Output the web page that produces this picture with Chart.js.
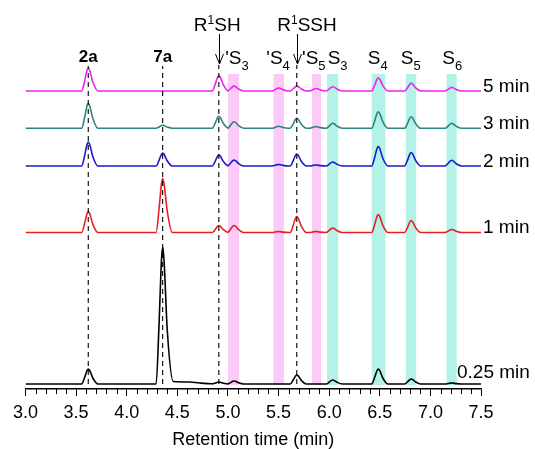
<!DOCTYPE html>
<html>
<head>
<meta charset="utf-8">
<script src="https://cdn.jsdelivr.net/npm/chart.js@4.4.0/dist/chart.umd.min.js"></script>
<style>
  body { margin: 0; background: #fff; }
  #wrap { width: 535px; height: 449px; }
</style>
</head>
<body>
<div id="wrap"><canvas id="c" width="535" height="449"></canvas></div>
<script>
// retention times (min) of the peaks followed through the runs
const peakTimes = [3.62, 4.355, 4.91, 5.06, 5.50, 5.68, 5.87, 6.035, 6.485, 6.81, 7.21];

// runs, bottom to top
const runLabels = ['0.25 min', '1 min', '2 min', '3 min', '5 min'];
const runColors = ['#000000', '#e82020', '#1a1acd', '#2a8580', '#ee22ee'];

// peak heights per run (same order as peakTimes)
const h025 = [15, 137, 2, 3, 0, 9, 0, 4, 15, 5, 1];
const h1   = [21, 54, 7, 7, 1, 16, 1, 4.5, 18, 12, 3];
const h2   = [24, 13, 11, 6, 1.5, 12, 1, 4, 19.5, 13.5, 5.7];
const h3   = [25, 3, 12, 6.5, 2, 10, 1.7, 5, 16.6, 11.6, 5];
const h5   = [23, 0, 15.5, 5, 3, 5, 2.5, 4.3, 13.3, 7.7, 3.7];
const runHeights = [h025, h1, h2, h3, h5];

// slow tail behind the big 7a peak of the first run
const tail025 = [[4.46, 2.5], [4.62, 2], [4.72, 1], [4.85, 0.3]];

// marked lines and bands
const markLines = [3.62, 4.355, 4.91, 5.68];
const pinkBands = [[5.0, 5.11], [5.45, 5.555], [5.83, 5.92]];
const cyanBands = [[5.98, 6.09], [6.42, 6.555], [6.757, 6.86], [7.16, 7.26]];

// ---- layout ----
const runOffset = [5, 156.5, 223, 260.7, 298];
const TOP = 389;            // y units == pixels above the axis line
const peakShape = [[-0.065, 0], [-0.035, 0.45], [-0.012, 0.9], [0, 1], [0.014, 0.9],
                   [0.045, 0.4], [0.095, 0]];
const FONT = '"Liberation Sans", Arial, sans-serif';

function buildRun(k) {
  const hs = runHeights[k], off = runOffset[k];
  const pts = [{ x: 3.0, y: off }];
  peakTimes.forEach((t, i) => {
    const h = hs[i];
    if (!h) return;
    peakShape.forEach(([dx, f], j) => {
      if (k === 0 && i === 1 && j === peakShape.length - 1) return;
      pts.push({ x: t + dx, y: off + f * h });
    });
    if (k === 0 && i === 1) tail025.forEach(([x, y]) => pts.push({ x: x, y: off + y }));
  });
  pts.push({ x: 7.5, y: off });
  return pts;
}

const datasets = [];
markLines.forEach((t, i) => {
  datasets.push({
    data: [{ x: t, y: 5 }, { x: t, y: i < 2 ? TOP - 66 : TOP - 65 }],
    borderColor: '#000', borderWidth: 1.1, borderDash: [5, 4],
    pointRadius: 0, cubicInterpolationMode: 'default', tension: 0
  });
});
for (let k = runLabels.length - 1; k >= 0; k--) {
  datasets.push({
    label: runLabels[k],
    data: buildRun(k),
    borderColor: runColors[k], borderWidth: 1.6,
    pointRadius: 0, cubicInterpolationMode: 'monotone'
  });
}

function rich(ctx, parts, x, y, size, small) {
  let cx = x;
  parts.forEach(([t, m]) => {
    ctx.font = (m ? small : size) + 'px ' + FONT;
    const dy = m === 'sup' ? -7 : m === 'sub' ? 6 : 0;
    ctx.fillText(t, cx, y + dy);
    cx += ctx.measureText(t).width;
  });
}

const decor = {
  id: 'decor',
  beforeDatasetsDraw(chart) {
    const ctx = chart.ctx, xs = chart.scales.x, ys = chart.scales.y;
    const y0 = ys.getPixelForValue(TOP - 74), y1 = ys.getPixelForValue(4);
    ctx.save();
    ctx.fillStyle = '#fbcaf6';
    pinkBands.forEach(([a, b]) => {
      const xa = xs.getPixelForValue(a), xb = xs.getPixelForValue(b);
      ctx.fillRect(xa, y0, xb - xa, y1 - y0);
    });
    ctx.fillStyle = '#b4f2e8';
    cyanBands.forEach(([a, b]) => {
      const xa = xs.getPixelForValue(a), xb = xs.getPixelForValue(b);
      ctx.fillRect(xa, y0, xb - xa, y1 - y0);
    });
    ctx.restore();
  },
  afterDraw(chart) {
    const ctx = chart.ctx, xs = chart.scales.x, ys = chart.scales.y;
    const bottom = chart.chartArea.bottom;
    ctx.save();
    // minor ticks every 0.1 min
    ctx.strokeStyle = '#000';
    ctx.lineWidth = 1;
    ctx.beginPath();
    for (let i = 1; i < 45; i++) {
      if (i % 5 === 0) continue;
      const x = Math.round(xs.getPixelForValue(3 + i * 0.1)) + 0.5;
      ctx.moveTo(x, bottom);
      ctx.lineTo(x, bottom + 5);
    }
    ctx.stroke();

    ctx.fillStyle = '#000';
    ctx.textBaseline = 'alphabetic';
    // compound labels
    ctx.textAlign = 'center';
    ctx.font = 'bold 17px ' + FONT;
    ctx.fillText('2a', xs.getPixelForValue(3.62), 62);
    ctx.fillText('7a', xs.getPixelForValue(4.355), 62);
    ctx.textAlign = 'left';
    rich(ctx, [['R'], ['1', 'sup'], ['SH']], xs.getPixelForValue(4.91) - 25, 31, 19, 12);
    rich(ctx, [['R'], ['1', 'sup'], ['SSH']], xs.getPixelForValue(5.68) - 19.5, 31, 19, 12);

    // arrows
    [4.91, 5.68].forEach(t => {
      const x = Math.round(xs.getPixelForValue(t)) + 0.5;
      ctx.beginPath();
      ctx.moveTo(x, 34); ctx.lineTo(x, 64);
      ctx.moveTo(x - 4, 54); ctx.lineTo(x, 64); ctx.lineTo(x + 4, 54);
      ctx.stroke();
    });

    // polysulfide labels
    const sLabels = [
      [4.973, "'S", '3'], [5.379, "'S", '4'], [5.732, "'S", '5'],
      [5.985, 'S', '3'], [6.381, 'S', '4'], [6.708, 'S', '5'], [7.117, 'S', '6']
    ];
    sLabels.forEach(([t, s, n]) => {
      rich(ctx, [[s], [n, 'sub']], xs.getPixelForValue(t), 64, 19, 13);
    });

    // run labels
    ctx.font = '19px ' + FONT;
    runLabels.forEach((lab, k) => {
      if (k === 0) {
        ctx.fillText(lab, 457, 378);
      } else {
        ctx.fillText(lab, xs.getPixelForValue(7.5) + 2, ys.getPixelForValue(runOffset[k]) + 0.5);
      }
    });
    ctx.restore();
  }
};

new Chart(document.getElementById('c'), {
  type: 'line',
  data: { datasets: datasets },
  options: {
    responsive: false,
    animation: false,
    layout: { padding: { left: 25.5, right: 54, top: 0, bottom: 0 } },
    plugins: { legend: { display: false }, tooltip: { enabled: false } },
    scales: {
      x: {
        type: 'linear', min: 3, max: 7.5,
        ticks: {
          stepSize: 0.5, autoSkip: false, maxRotation: 0, padding: 6,
          color: '#000', font: { family: FONT, size: 18 },
          callback: v => v.toFixed(1)
        },
        grid: { drawOnChartArea: false, drawTicks: true, tickLength: 7, tickColor: '#000', tickWidth: 1 },
        border: { display: true, color: '#000', width: 1.5 },
        title: {
          display: true, text: 'Retention time (min)', color: '#000',
          font: { family: FONT, size: 18, lineHeight: 1 }, padding: { top: 0, bottom: 0 }
        },
        afterFit: s => { s.height = 60; }
      },
      y: { display: false, min: 0, max: TOP }
    }
  },
  plugins: [decor]
});
</script>
</body>
</html>
